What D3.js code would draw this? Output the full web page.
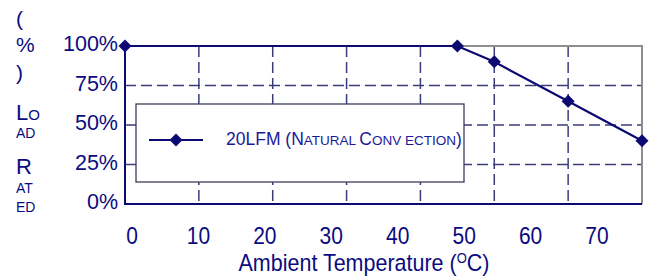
<!DOCTYPE html>
<html>
<head>
<meta charset="utf-8">
<script src="https://cdn.jsdelivr.net/npm/d3@7"></script>
<style>
  body { margin: 0; background: #fff; }
  text { font-family: "Liberation Sans", Arial, sans-serif; fill: #0b0b80; }
</style>
</head>
<body>
<div id="chart"></div>
<script>
const temps = [0, 45, 50, 60, 70];
const loads = [100, 100, 90, 65, 40];
const xTicks = [0, 10, 20, 30, 40, 50, 60, 70];
const yTicks = [0, 25, 50, 75, 100];
const seriesName = '20LFM';

const width = 667;
const height = 277;

const svg = d3.select('#chart')
    .append('svg')
    .attr('width', width)
    .attr('height', height);

const x = d3.scaleLinear().domain([0, 70]).range([125, 642]);
// tick labels in the original sit off the grid
const xLabel = d3.scaleLinear().domain([0, 70]).range([132, 597]);
const y = d3.scaleLinear().domain([0, 100]).range([204, 46]);

const navy = '#0a0a72';
const grid = '#3c3c7c';

// grid
svg.append('g')
    .selectAll('line')
    .data(yTicks.filter(d => d > 0 && d < 100))
    .join('line')
    .attr('x1', x(0)).attr('x2', x(70))
    .attr('y1', d => y(d)).attr('y2', d => y(d))
    .attr('stroke', grid).attr('stroke-width', 1.5)
    .attr('stroke-dasharray', '11,5');

svg.append('g')
    .selectAll('line')
    .data(xTicks.filter(d => d > 0 && d < 70))
    .join('line')
    .attr('x1', d => x(d)).attr('x2', d => x(d))
    .attr('y1', y(100)).attr('y2', y(0))
    .attr('stroke', grid).attr('stroke-width', 1.5)
    .attr('stroke-dasharray', '11,5');

// frame
svg.append('path')
    .attr('d', `M${x(0)},${y(100)}H${x(70)}V${y(0)}`)
    .attr('fill', 'none').attr('stroke', '#8e8e8e').attr('stroke-width', 2);
svg.append('path')
    .attr('d', `M${x(0)},${y(100)}V${y(0)}H${x(70)}`)
    .attr('fill', 'none').attr('stroke', navy).attr('stroke-width', 2);

// legend box
const legend = svg.append('g');
legend.append('rect')
    .attr('x', 136).attr('y', 104).attr('width', 328).attr('height', 78)
    .attr('fill', '#fff').attr('stroke', '#3c3c5c').attr('stroke-width', 1.3);
legend.append('line')
    .attr('x1', 149).attr('x2', 203).attr('y1', 140).attr('y2', 140)
    .attr('stroke', navy).attr('stroke-width', 2);
legend.append('path')
    .attr('d', d3.symbol(d3.symbolSquare, 85)())
    .attr('transform', 'translate(176,140) rotate(45)')
    .attr('fill', navy);

const lt = legend.append('text')
    .attr('x', 226).attr('y', 145)
    .style('font-size', '17.5px')
    .style('fill', '#1a1a9a');
const small = '13.5px';
lt.append('tspan').text(seriesName + ' (N');
lt.append('tspan').style('font-size', small).text('ATURAL ');
lt.append('tspan').text('C');
lt.append('tspan').style('font-size', small).text('ONV ECTION');
lt.append('tspan').text(')');

// series
svg.append('path')
    .datum(temps.map((t, i) => [t, loads[i]]))
    .attr('d', d3.line().x(d => x(d[0])).y(d => y(d[1])))
    .attr('fill', 'none').attr('stroke', navy).attr('stroke-width', 2.2);

svg.append('g')
    .selectAll('path')
    .data(temps.map((t, i) => [t, loads[i]]))
    .join('path')
    .attr('d', d3.symbol(d3.symbolSquare, 85)())
    .attr('transform', d => `translate(${x(d[0])},${y(d[1])}) rotate(45)`)
    .attr('fill', navy);

// y tick labels
svg.append('g')
    .selectAll('text')
    .data(yTicks)
    .join('text')
    .attr('x', 118)
    .attr('y', d => y(d) + 5)
    .attr('text-anchor', 'end')
    .style('font-size', '21.5px')
    .text(d => d + '%');

// x tick labels
svg.append('g')
    .selectAll('text')
    .data(xTicks)
    .join('text')
    .attr('transform', d => `translate(${xLabel(d)},244) scale(1,1.15)`)
    .attr('text-anchor', 'middle')
    .style('font-size', '21px')
    .text(d => d);

// x title
const xt = svg.append('text')
    .attr('transform', 'translate(364,271) scale(1,1.12)')
    .attr('text-anchor', 'middle')
    .style('font-size', '21.5px');
xt.append('tspan').text('Ambient Temperature (');
xt.append('tspan').attr('dy', -7).style('font-size', '13px').text('O');
xt.append('tspan').attr('dy', 7).text('C)');

// y title, broken up as in the original
const yTitle = [
    { t: '(', y: 26, s: 21 },
    { t: '%', y: 52, s: 21 },
    { t: ')', y: 80, s: 21 },
    { t: 'AD', y: 138, s: 14 },
    { t: 'AT', y: 193, s: 14 },
    { t: 'ED', y: 212, s: 14 }
];
svg.append('g')
    .selectAll('text')
    .data(yTitle)
    .join('text')
    .attr('x', 16).attr('y', d => d.y)
    .style('font-size', d => d.s + 'px')
    .text(d => d.t);

const lo = svg.append('text').attr('x', 16).attr('y', 120).style('font-size', '22px');
lo.append('tspan').text('L');
lo.append('tspan').style('font-size', '15px').text('O');
svg.append('text').attr('x', 16).attr('y', 174).style('font-size', '22px').text('R');
</script>
</body>
</html>
